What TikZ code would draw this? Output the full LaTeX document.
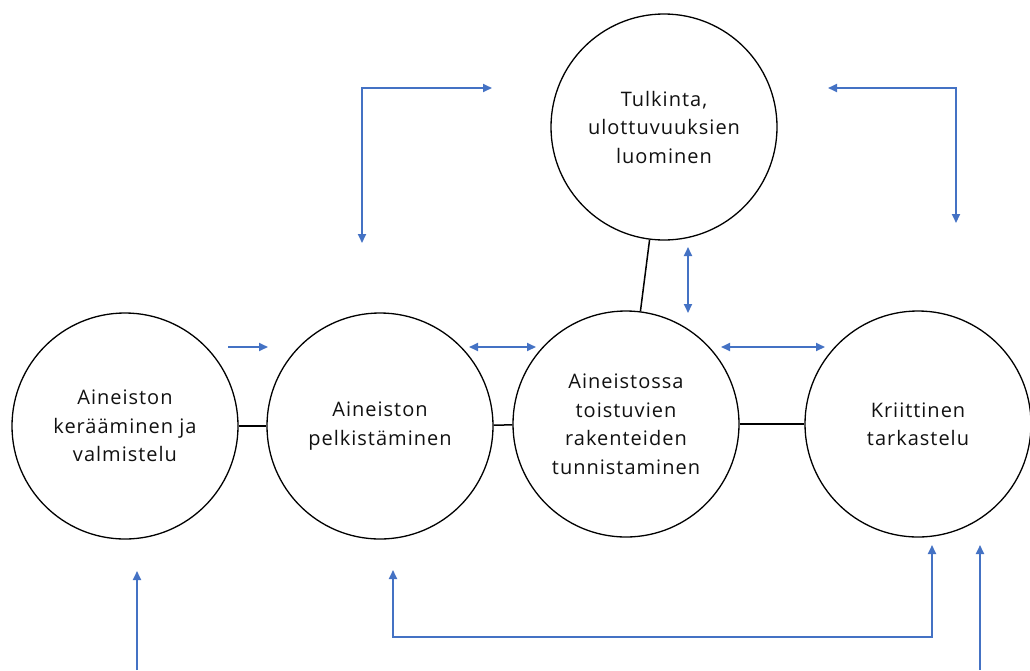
\documentclass[tikz,border=0pt]{standalone}
\usepackage{fontspec}
\setmainfont{Open Sans}[LetterSpace=5]
\usetikzlibrary{arrows.meta}
\definecolor{flowblue}{HTML}{4472C4}
\definecolor{inktext}{HTML}{111111}
\begin{document}
\begin{tikzpicture}[x=1pt,y=-1pt,
  stage/.style={circle, draw=black, line width=1.3pt, minimum size=226pt,
    inner sep=0pt, align=center, text=inktext,
    font=\fontsize{20}{28.5}\selectfont},
  link/.style={draw=black, line width=1.5pt},
  tip/.tip={Triangle[length=9pt,width=8pt]},
  flow/.style={draw=flowblue, line width=1.8pt, -tip},
  flowboth/.style={draw=flowblue, line width=1.8pt, tip-tip}]
\useasboundingbox (0,0) rectangle (1030,670);

% the five stages
\node[stage] (gather)    at (125,426) {Aineiston\\kerääminen ja\\valmistelu};
\node[stage] (reduce)    at (380,426) {Aineiston\\pelkistäminen};
\node[stage] (identify)  at (626,424) {Aineistossa\\toistuvien\\rakenteiden\\tunnistaminen};
\node[stage] (critical)  at (918,424) {Kriittinen\\tarkastelu};
\node[stage] (interpret) at (664,127) {Tulkinta,\\ulottuvuuksien\\luominen};

% plain joining lines
\draw[link] (gather) -- (reduce);
\draw[link] (reduce) -- (identify);
\draw[link] (identify) -- (critical);
\draw[link] (interpret) -- (identify);

% end points of the blue flow arrows
\coordinate (gr1) at (228,347);  \coordinate (gr2) at (268,347);
\coordinate (ri1) at (469,347);  \coordinate (ri2) at (536,347);
\coordinate (ic1) at (721,347);  \coordinate (ic2) at (825,347);
\coordinate (ti1) at (688,247);  \coordinate (ti2) at (688,313);
\coordinate (tl1) at (362,243);  \coordinate (tl2) at (492,88);
\coordinate (tr1) at (828,88);   \coordinate (tr2) at (956,223);
\coordinate (ul1) at (393,570);  \coordinate (ul2) at (932,545);
\coordinate (bl1) at (137,670);  \coordinate (bl2) at (137,571);
\coordinate (br1) at (980,670);  \coordinate (br2) at (980,545);

\draw[flow] (gr1) -- (gr2);
\draw[flowboth] (ri1) -- (ri2);
\draw[flowboth] (ic1) -- (ic2);
\draw[flowboth] (ti1) -- (ti2);
\draw[flowboth] (tl1) |- (tl2);
\draw[flowboth] (tr1) -| (tr2);
\draw[flowboth] (ul1) -- (393,637) -| (ul2);
\draw[flow] (bl1) -- (bl2);
\draw[flow] (br1) -- (br2);
\end{tikzpicture}
\end{document}
